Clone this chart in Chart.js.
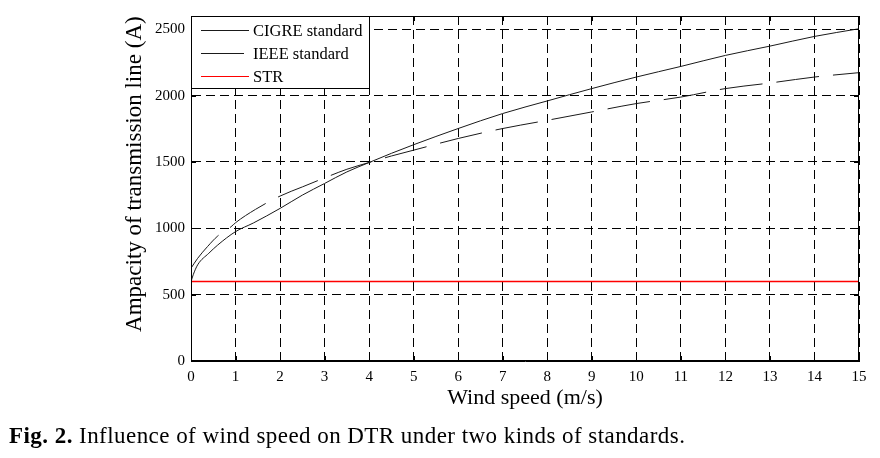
<!DOCTYPE html>
<html><head><meta charset="utf-8">
<script src="https://cdn.jsdelivr.net/npm/chart.js@4.4.1/dist/chart.umd.min.js"></script>
<style>
html,body{margin:0;padding:0;background:#fff;}
#wrap{position:relative;width:880px;height:458px;}
canvas{position:absolute;left:0;top:0;}
#cap{position:absolute;left:9px;top:423px;font-family:"Liberation Serif",serif;font-size:23px;letter-spacing:0.45px;color:#000;white-space:nowrap;}
</style></head><body>
<div id="wrap"><canvas id="c" width="880" height="458"></canvas>
<div id="cap"><b>Fig. 2.</b> Influence of wind speed on DTR under two kinds of standards.</div></div>
<script>
const seriesNames = ['CIGRE standard', 'IEEE standard', 'STR'];
const cigreSpeed = [0, 0.05, 0.15, 0.4, 0.6, 1, 1.4, 2, 2.5, 3, 3.5, 4, 4.5, 5, 6, 7, 8, 9, 10, 11, 12, 13, 14, 15];
const cigreAmp   = [598, 650, 725, 812, 874, 975, 1040, 1150, 1250, 1338, 1425, 1496, 1565, 1630, 1752, 1865, 1960, 2053, 2140, 2220, 2303, 2373, 2446, 2504];
const ieeeSpeed  = [0, 0.15, 0.37, 0.6, 0.9, 1, 1.45, 2, 2.5, 3, 3.5, 4, 4.5, 5, 6, 7, 8, 9, 10, 11, 12, 13, 14, 15];
const ieeeAmp    = [699, 774, 862, 942, 1012, 1042, 1143, 1243, 1312, 1380, 1445, 1496, 1545, 1589, 1677, 1752, 1814, 1877, 1940, 1989, 2053, 2095, 2140, 2173];
const strSpeed   = [0, 15];
const strAmp     = [600, 600];
const xTicks = [0,1,2,3,4,5,6,7,8,9,10,11,12,13,14,15];
const yTicks = [0, 500, 1000, 1500, 2000, 2500];
const xTitle = 'Wind speed (m/s)';
const yTitle = '     Ampacity of transmission line (A)';

const pts = (xs, ys) => xs.map((v, i) => ({x: v, y: ys[i]}));
const FONT = '"Liberation Serif", "Times New Roman", serif';

const framePlugin = {
  id: 'frame',
  afterDatasetsDraw(chart) {
    const {ctx, chartArea: a, scales: {x, y}} = chart;
    ctx.save();
    ctx.strokeStyle = '#000'; ctx.lineWidth = 1; ctx.setLineDash([]);
    ctx.strokeRect(a.left + 0.5, a.top + 0.5, a.right - a.left - 1, a.bottom - a.top - 1);
    ctx.beginPath();
    x.ticks.forEach(t => {
      const p = Math.round(x.getPixelForValue(t.value)) + 0.5;
      ctx.moveTo(p, a.bottom); ctx.lineTo(p, a.bottom - 5);
      ctx.moveTo(p, a.top); ctx.lineTo(p, a.top + 5);
    });
    y.ticks.forEach(t => {
      const p = Math.round(y.getPixelForValue(t.value)) + 0.5;
      ctx.moveTo(a.left, p); ctx.lineTo(a.left + 5, p);
      ctx.moveTo(a.right, p); ctx.lineTo(a.right - 5, p);
    });
    ctx.stroke();
    // legend box
    const bx = a.left + 0.5, by = a.top + 0.5, bw = 178, bh = 72;
    ctx.fillStyle = '#fff';
    ctx.fillRect(bx, by, bw, bh);
    ctx.strokeRect(bx, by, bw, bh);
    ctx.font = '16.5px ' + FONT;
    ctx.textBaseline = 'middle';
    chart.data.datasets.forEach((ds, i) => {
      const ry = a.top + 14.5 + i * 23;
      ctx.strokeStyle = ds.borderColor;
      ctx.lineWidth = 1;
      ctx.setLineDash(ds.borderDash || []);
      ctx.beginPath(); ctx.moveTo(a.left + 10, ry); ctx.lineTo(a.left + 58, ry); ctx.stroke();
      ctx.setLineDash([]);
      ctx.fillStyle = '#000';
      ctx.fillText(ds.label, a.left + 62, ry + 1);
    });
    ctx.restore();
  }
};

new Chart(document.getElementById('c'), {
  type: 'line',
  data: {
    datasets: [
      {label: seriesNames[0], data: pts(cigreSpeed, cigreAmp), borderColor: '#1a1a1a', borderWidth: 1, pointRadius: 0, cubicInterpolationMode: 'monotone'},
      {label: seriesNames[1], data: pts(ieeeSpeed, ieeeAmp), borderColor: '#1a1a1a', borderWidth: 1, borderDash: [43, 14], pointRadius: 0, cubicInterpolationMode: 'monotone'},
      {label: seriesNames[2], data: pts(strSpeed, strAmp), borderColor: '#ff0000', borderWidth: 1.5, pointRadius: 0}
    ]
  },
  options: {
    responsive: false, animation: false, devicePixelRatio: 1,
    layout: {padding: {left: 115, top: 16, right: 21, bottom: 37}},
    plugins: {legend: {display: false}, tooltip: {enabled: false}},
    scales: {
      x: {
        type: 'linear', min: 0, max: 15,
        afterBuildTicks: s => { s.ticks = xTicks.map(v => ({value: v})); },
        afterFit: s => { s.height = 60; },
        grid: {color: '#000', lineWidth: 1, drawTicks: false},
        border: {display: true, color: '#000', dash: [9, 5]},
        ticks: {color: '#000', padding: 7, maxRotation: 0, font: {family: FONT, size: 15}, callback: v => String(v)},
        title: {display: true, text: xTitle, color: '#000', font: {family: FONT, size: 22}, padding: {top: 0, bottom: 10}}
      },
      y: {
        type: 'linear', min: 0, max: 2600,
        afterBuildTicks: s => { s.ticks = yTicks.map(v => ({value: v})); },
        afterFit: s => { s.width = 76; },
        grid: {color: '#000', lineWidth: 1, drawTicks: false},
        border: {display: true, color: '#000', dash: [9, 5]},
        ticks: {color: '#000', padding: 6, font: {family: FONT, size: 15}, callback: v => String(v)},
        title: {display: true, text: yTitle, color: '#000', font: {family: FONT, size: 23}, padding: {top: 6, bottom: 0}}
      }
    }
  },
  plugins: [framePlugin]
});
</script>
</body></html>
